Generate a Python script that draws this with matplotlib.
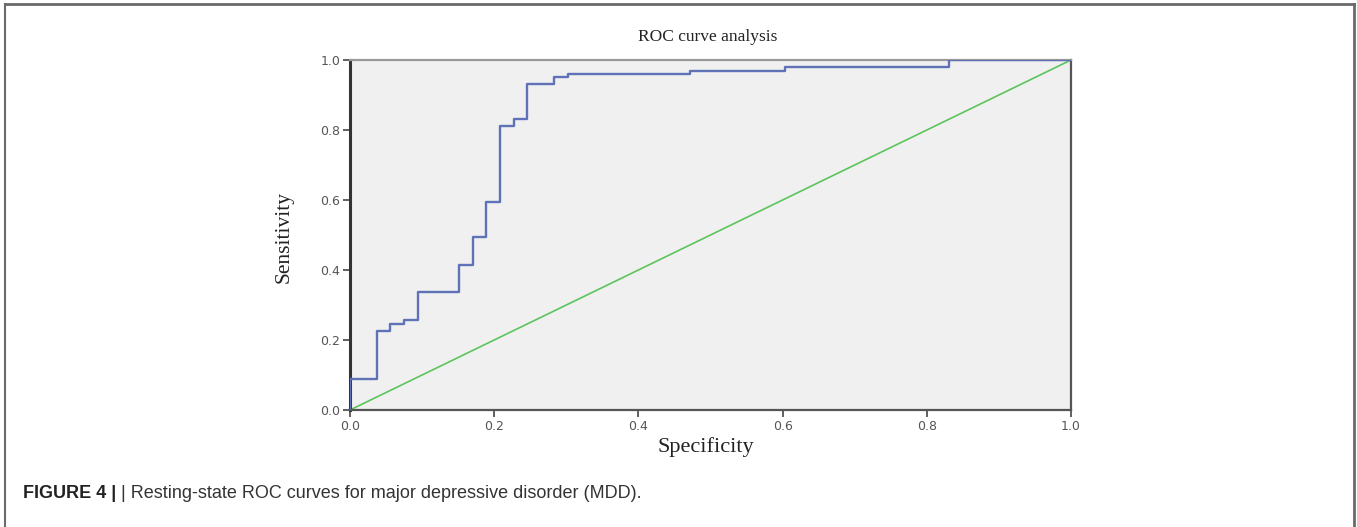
import matplotlib
matplotlib.use('Agg')
import matplotlib.pyplot as plt
from matplotlib.lines import Line2D

# ROC curve (step corners)
fpr = [0.0, 0.0, 0.037, 0.055, 0.075, 0.095, 0.151, 0.170, 0.189, 0.208, 0.227,
       0.246, 0.283, 0.303, 0.472, 0.604, 0.831, 1.0]
tpr = [0.0, 0.09, 0.227, 0.246, 0.257, 0.336, 0.415, 0.494, 0.594, 0.811, 0.832,
       0.930, 0.950, 0.960, 0.969, 0.981, 1.0, 1.0]
ref_line = [0.0, 1.0]
ticks = [0.0, 0.2, 0.4, 0.6, 0.8, 1.0]
tick_labels = ['0.0', '0.2', '0.4', '0.6', '0.8', '1.0']

fig = plt.figure(figsize=(13.57, 5.27), dpi=100)
ax = fig.add_axes([350/1357, 1 - 410/527, 721/1357, 350/527])
ax.set_facecolor('#f0f0f0')

ax.step(fpr, tpr, where='post', color='#5f72b8', lw=1.7, zorder=3)
ax.plot(ref_line, ref_line, color='#5cc45c', lw=1.2, zorder=2)

ax.set_xlim(0, 1)
ax.set_ylim(0, 1)
ax.set_xticks(ticks)
ax.set_yticks(ticks)
ax.set_xticklabels(tick_labels)
ax.set_yticklabels(tick_labels)
ax.tick_params(direction='out', length=5, width=1.2, color='#444',
               labelsize=9, labelcolor='#555', pad=2)

ax.spines['left'].set_color('#333')
ax.spines['left'].set_linewidth(2.2)
ax.spines['bottom'].set_color('#555')
ax.spines['bottom'].set_linewidth(1.6)
ax.spines['top'].set_color('#999')
ax.spines['top'].set_linewidth(1.6)
ax.spines['right'].set_color('#555')
ax.spines['right'].set_linewidth(1.6)

serif = 'Liberation Serif'
fig.text(708/1357, 1 - 37/527, 'ROC curve analysis', family=serif,
         fontsize=12.5, ha='center', va='center', color='#222')
fig.text(706/1357, 1 - 447/527, 'Specificity', family=serif,
         fontsize=16, ha='center', va='center', color='#222')
fig.text(284/1357, 1 - 237/527, 'Sensitivity', family=serif,
         fontsize=15.5, ha='center', va='center', rotation=90, color='#222')

# caption
cap = fig.text(23/1357, 1 - 494/527, 'FIGURE 4 | ', family='Liberation Sans',
               fontweight='bold', fontsize=13, ha='left', va='center', color='#222')
fig.canvas.draw()
ax.annotate('| Resting-state ROC curves for major depressive disorder (MDD).',
            xy=(1, 0.5), xycoords=cap, ha='left', va='center',
            family='Liberation Sans', fontsize=13, color='#333',
            annotation_clip=False)

# figure frame (left, top, right)
fc = '#6a6a6a'
fig.add_artist(Line2D([5/1357, 5/1357], [0, 1 - 4/527], color=fc, lw=1.5, transform=fig.transFigure))
fig.add_artist(Line2D([5/1357, 1354/1357], [1 - 4/527, 1 - 4/527], color=fc, lw=2, transform=fig.transFigure))
fig.add_artist(Line2D([1354/1357, 1354/1357], [0, 1 - 4/527], color=fc, lw=2, transform=fig.transFigure))

fig.savefig('out.png', dpi=100)
